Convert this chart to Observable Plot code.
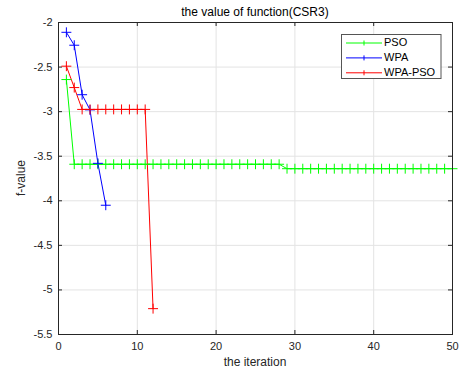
<!DOCTYPE html>
<html><head><meta charset="utf-8">
<script src="https://cdn.jsdelivr.net/npm/d3@7"></script>
<script src="https://cdn.jsdelivr.net/npm/@observablehq/plot@0.6"></script>
<style>body{margin:0;background:#fff}#chart{width:464px;height:375px}</style>
</head><body><div id="chart"></div>
<script>
const seriesNames = ["PSO", "WPA", "WPA-PSO"];
const seriesColors = ["#00ff00", "#0000ff", "#ff0000"];
const psoValues = [-2.64,
  -3.59, -3.59, -3.59, -3.59, -3.59, -3.59, -3.59, -3.59, -3.59, -3.59,
  -3.59, -3.59, -3.59, -3.59, -3.59, -3.59, -3.59, -3.59, -3.59, -3.59,
  -3.59, -3.59, -3.59, -3.59, -3.59, -3.59, -3.59,
  -3.64, -3.64, -3.64, -3.64, -3.64, -3.64, -3.64, -3.64, -3.64, -3.64, -3.64,
  -3.64, -3.64, -3.64, -3.64, -3.64, -3.64, -3.64, -3.64, -3.64, -3.64, -3.64];
const wpaValues = [-2.11, -2.255, -2.81, -2.98, -3.58, -4.05];
const wpaPsoValues = [-2.49, -2.73, -2.975, -2.975, -2.975, -2.975, -2.975, -2.975, -2.975, -2.975, -2.975, -5.21];
const xTicks = [0, 10, 20, 30, 40, 50];
const yTicks = [-2, -2.5, -3, -3.5, -4, -4.5, -5, -5.5];
const titleText = "the value of function(CSR3)";
const xLabel = "the iteration";
const yLabel = "f-value";

const allValues = [psoValues, wpaValues, wpaPsoValues];
const data = allValues.flatMap((vals, s) => vals.map((v, i) => ({series: seriesNames[s], iter: i + 1, value: v})));

const W = 464, H = 375, ML = 58, MR = 12, MT = 22, MB = 41;
const fw = W - ML - MR, fh = H - MT - MB;
const axisColor = "#262626";
const font = "'Liberation Sans', Arial, Helvetica, sans-serif";

const chart = Plot.plot({
  width: W, height: H,
  marginLeft: ML, marginRight: MR, marginTop: MT, marginBottom: MB,
  style: {fontFamily: font, fontSize: "11px", color: axisColor, background: "#fff"},
  x: {domain: [0, 50], ticks: xTicks},
  y: {domain: [-5.5, -2], ticks: yTicks},
  color: {domain: seriesNames, range: seriesColors},
  marks: [
    Plot.gridX(xTicks, {stroke: "#e3e3e3", strokeOpacity: 1}),
    Plot.gridY(yTicks, {stroke: "#e3e3e3", strokeOpacity: 1}),
    Plot.tickX(xTicks, {x: d => d, stroke: axisColor, insetTop: fh - 4}),
    Plot.tickX(xTicks, {x: d => d, stroke: axisColor, insetBottom: fh - 4}),
    Plot.tickY(yTicks, {y: d => d, stroke: axisColor, insetRight: fw - 4}),
    Plot.tickY(yTicks, {y: d => d, stroke: axisColor, insetLeft: fw - 4}),
    Plot.axisX(xTicks, {anchor: "bottom", tickSize: 0, tickPadding: 8, label: null, tickFormat: d => String(d)}),
    Plot.axisY(yTicks, {anchor: "left", tickSize: 0, tickPadding: 6, label: null, tickFormat: d => String(d)}),
    Plot.line(data, {x: "iter", y: "value", z: "series", stroke: "series", strokeWidth: 1}),
    Plot.dot(data, {x: "iter", y: "value", stroke: "series", symbol: "plus", r: 3.3, strokeWidth: 1}),
    Plot.frame({stroke: axisColor, strokeWidth: 1})
  ]
});
document.getElementById("chart").appendChild(chart);

const svg = d3.select(chart);
svg.append("text").attr("x", ML + fw / 2).attr("y", 13).attr("text-anchor", "middle")
  .attr("dominant-baseline", "middle").attr("font-size", 12).attr("fill", "#000").attr("font-family", font).text(titleText);
svg.append("text").attr("x", ML + fw / 2).attr("y", 363).attr("text-anchor", "middle")
  .attr("dominant-baseline", "middle").attr("font-size", 12).attr("fill", axisColor).attr("font-family", font).text(xLabel);
svg.append("text").attr("transform", `translate(22,${MT + fh / 2}) rotate(-90)`).attr("text-anchor", "middle")
  .attr("dominant-baseline", "middle").attr("font-size", 12).attr("fill", axisColor).attr("font-family", font).text(yLabel);

const lg = svg.append("g");
lg.append("rect").attr("x", 341.5).attr("y", 34.5).attr("width", 99.5).attr("height", 44)
  .attr("fill", "#fff").attr("stroke", "#555").attr("stroke-width", 1);
seriesNames.forEach((name, i) => {
  const y = 43 + i * 14.9;
  lg.append("line").attr("x1", 346).attr("x2", 382).attr("y1", y).attr("y2", y)
    .attr("stroke", seriesColors[i]).attr("stroke-width", 1);
  lg.append("path").attr("d", `M364,${y - 2.5}V${y + 2.5}`)
    .attr("stroke", seriesColors[i]).attr("stroke-width", 1).attr("fill", "none");
  lg.append("text").attr("x", 384).attr("y", y).attr("text-anchor", "start").attr("dominant-baseline", "middle")
    .attr("font-size", 11).attr("fill", "#000").attr("font-family", font).text(name);
});
</script></body></html>
